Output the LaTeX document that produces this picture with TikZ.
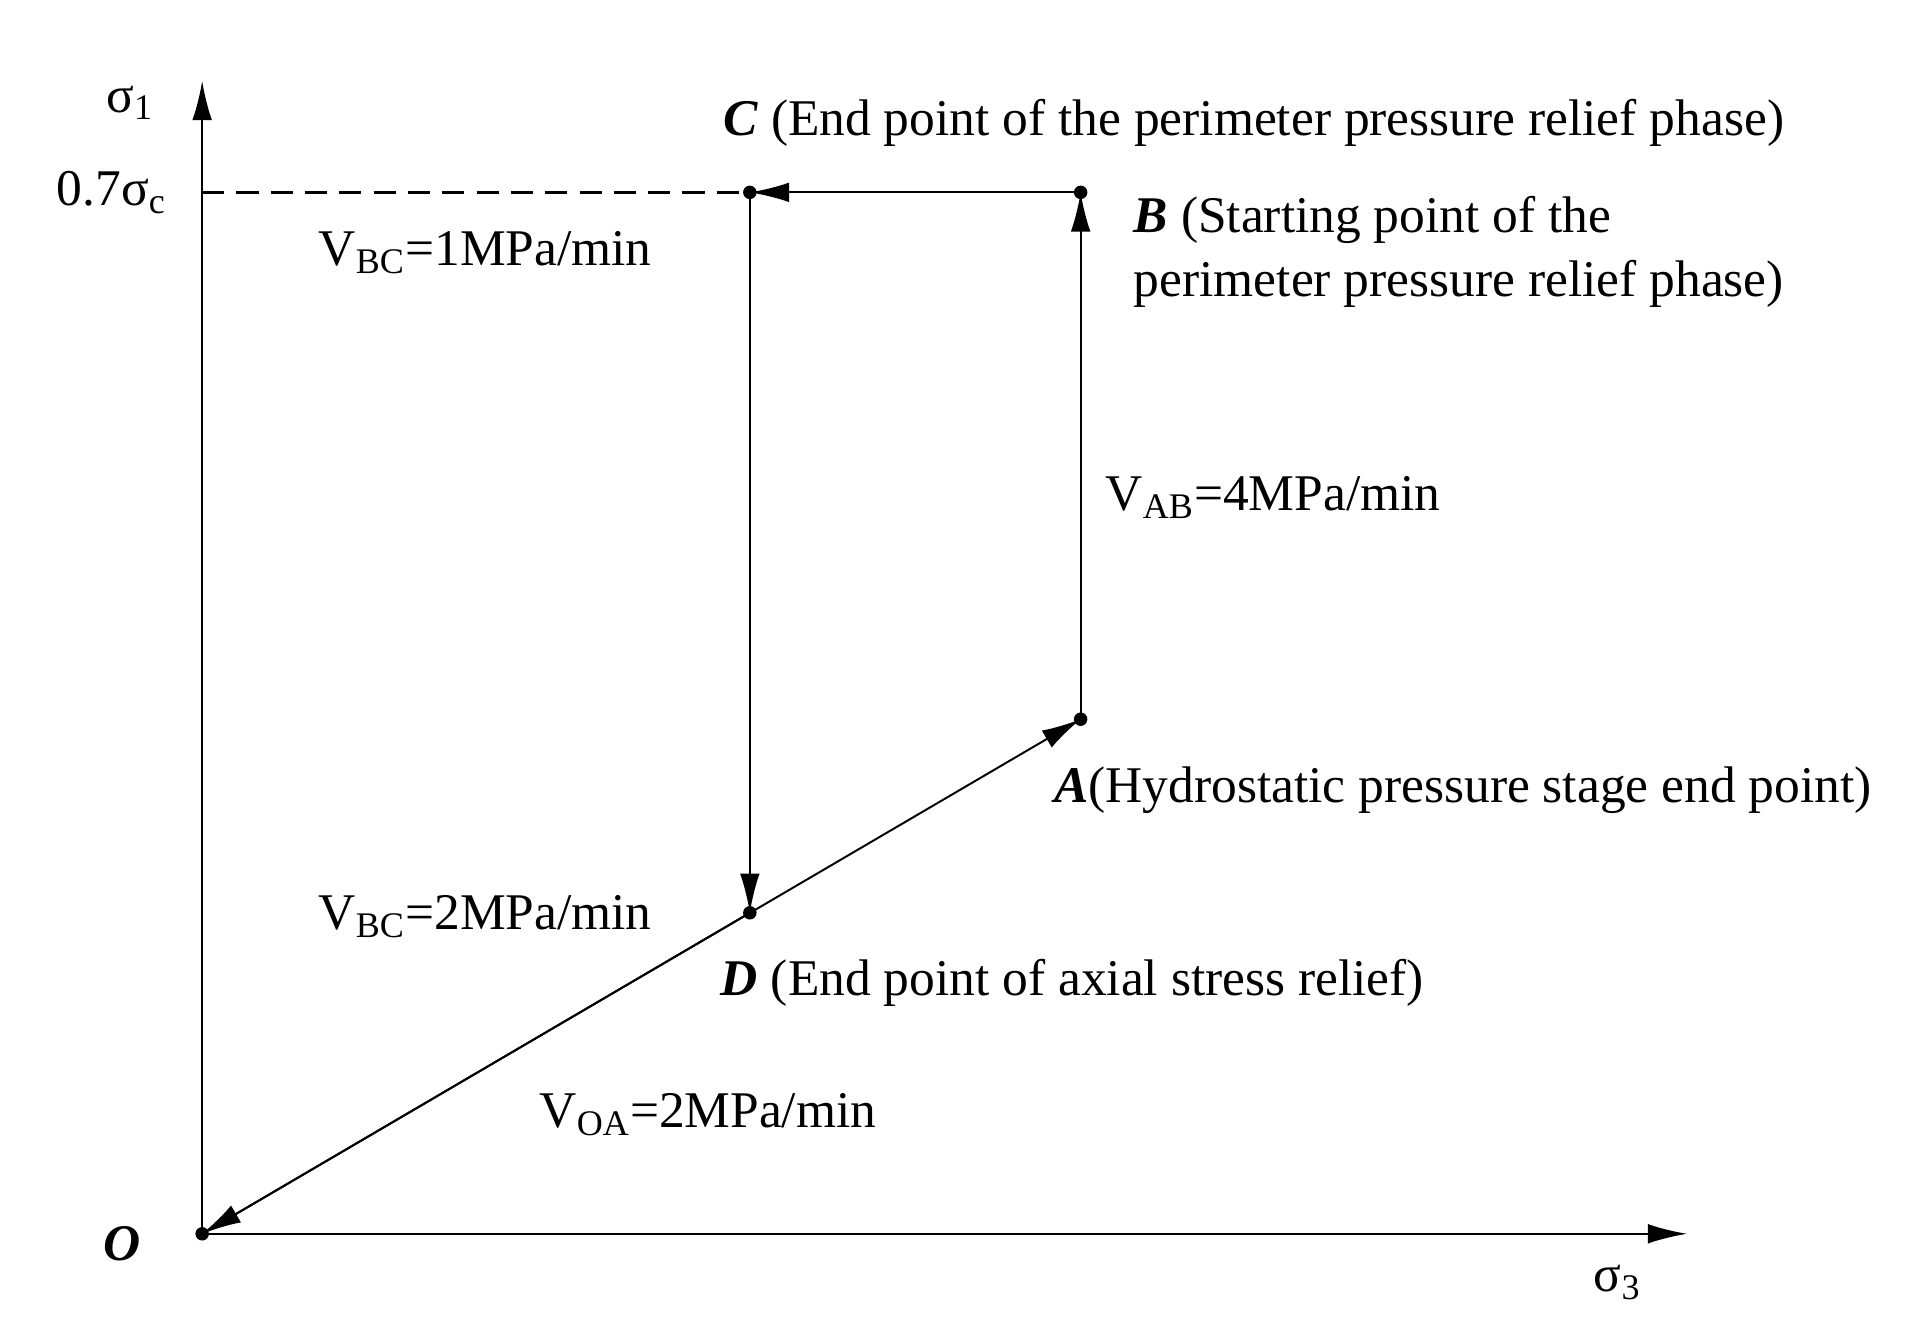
\documentclass[tikz,border=0pt]{standalone}
\usepackage{fontspec}
\setmainfont{Liberation Serif}
\usetikzlibrary{arrows.meta}
\begin{document}
\begin{tikzpicture}[x=0.5pt,y=-0.5pt,
  ln/.style={line width=0.8pt},
  arr/.style={ln,-{Latex[length=16pt,width=8pt]}},
  pt/.style={circle,fill,inner sep=0pt,minimum size=5.5pt},
  lab/.style={inner sep=0pt,font=\fontsize{21}{26}\selectfont}]
\useasboundingbox (0,0) rectangle (1563,1096);
\node[pt] (O) at (165,1007) {};
\node[pt] (A) at (882,587) {};
\node[pt] (B) at (882,157) {};
\node[pt] (C) at (612,157) {};
\node[pt] (D) at (612,745) {};
\coordinate (Y) at (165,66);
\coordinate (X) at (1377,1007);
\coordinate (Yc) at (165,157);
\draw[arr] (O.center) -- (Y);
\draw[arr] (O.center) -- (X);
\draw[line width=1pt,dash pattern=on 9pt off 5pt] (Yc) -- (C.center);
\draw[arr] (O.center) -- (A.center);
\draw[arr] (A.center) -- (B.center);
\draw[arr] (B.center) -- (C.center);
\draw[arr] (C.center) -- (D.center);
\draw[arr] (D.center) -- (O.center);
\node[lab] (s1) at (106,84) {σ\textsubscript{1}};
\node[lab,anchor=east] (s07) at (136,157) {0.7σ\textsubscript{c}};
\node[lab] (s3) at (1320,1047) {σ\textsubscript{3}};
\node[lab] (Ol) at (100,1015) {\textbf{\textit{O}}};
\node[lab,anchor=west] (Cl) at (590,100) {\textbf{\textit{C}} (End point of the perimeter pressure relief phase)};
\node[lab,anchor=north west,align=left] (Bl) at (925,160) {\textbf{\textit{B}} (Starting point of the\\perimeter pressure relief phase)};
\node[lab,anchor=west] (Al) at (860,645) {\textbf{\textit{A}}(Hydrostatic pressure stage end point)};
\node[lab,anchor=west] (Dl) at (588,802) {\textbf{\textit{D}} (End point of axial stress relief)};
\node[lab] (v1) at (396,206) {V\textsubscript{BC}=1MPa/min};
\node[lab] (v2) at (396,748) {V\textsubscript{BC}=2MPa/min};
\node[lab,anchor=west] (v3) at (902,406) {V\textsubscript{AB}=4MPa/min};
\node[lab,anchor=west] (v4) at (440,910) {V\textsubscript{OA}=2MPa/min};
\end{tikzpicture}
\end{document}
